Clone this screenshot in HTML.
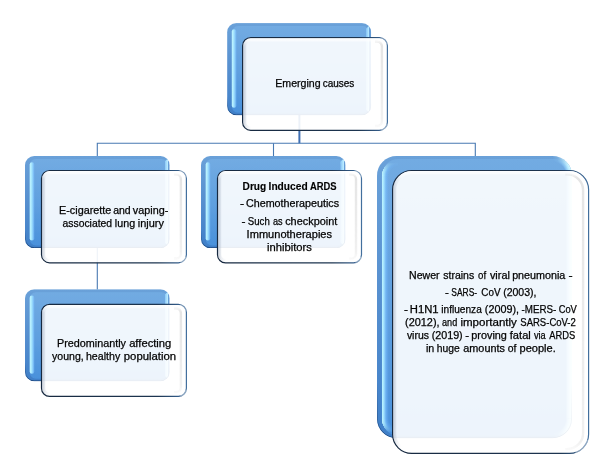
<!DOCTYPE html>
<html lang="en"><head><meta charset="utf-8"><title>Emerging causes</title>
<style>html,body{margin:0;padding:0;background:#fff}body{width:609px;height:471px;overflow:hidden}svg{display:block}text{font-family:"Liberation Sans",sans-serif;font-size:10px;fill:#000;stroke:#000;stroke-width:0.25px}text.b{font-weight:bold;stroke-width:0.15px}</style></head><body>
<svg width="609" height="471" viewBox="0 0 609 471">
<defs>
<filter id="bl" x="-20%" y="-20%" width="140%" height="140%"><feGaussianBlur stdDeviation="0.45"/></filter>
<filter id="bl3" x="-60%" y="-60%" width="220%" height="220%"><feGaussianBlur stdDeviation="0.6"/></filter>
<filter id="bl2" x="-20%" y="-20%" width="140%" height="140%"><feGaussianBlur stdDeviation="0.7"/></filter>
<linearGradient id="gb" x1="0" y1="0" x2="0" y2="1"><stop offset="0" stop-color="#72ABE2"/><stop offset="0.5" stop-color="#60A0DF"/><stop offset="1" stop-color="#4A91DB"/></linearGradient>
<linearGradient id="gsd" x1="0" y1="0" x2="0" y2="1"><stop offset="0" stop-color="#6AA1D9"/><stop offset="0.5" stop-color="#568FCF"/><stop offset="1" stop-color="#3F7FC8"/></linearGradient>
<linearGradient id="be" x1="0" y1="0" x2="0" y2="1"><stop offset="0" stop-color="#1F4A80" stop-opacity="0"/><stop offset="0.8" stop-color="#1F4A80" stop-opacity="0"/><stop offset="1" stop-color="#1B3F70" stop-opacity="0.9"/></linearGradient>
<linearGradient id="hl" x1="0" y1="0" x2="1" y2="0"><stop offset="0" stop-color="#B4EAFF" stop-opacity="1"/><stop offset="0.45" stop-color="#A0DCFF" stop-opacity="0.8"/><stop offset="1" stop-color="#8CCBFA" stop-opacity="0"/></linearGradient>
<linearGradient id="hr" x1="0" y1="0" x2="1" y2="0"><stop offset="0" stop-color="#8CC8F8" stop-opacity="0"/><stop offset="0.3" stop-color="#90CBF8" stop-opacity="0.8"/><stop offset="0.7" stop-color="#AEE2FF" stop-opacity="1"/><stop offset="1" stop-color="#C8F3FF" stop-opacity="1"/></linearGradient>
<linearGradient id="s_top" gradientUnits="userSpaceOnUse" x1="242.0" y1="0" x2="388.0" y2="0"><stop offset="0" stop-color="#172940"/><stop offset="0.7945" stop-color="#1D3550"/><stop offset="0.9589" stop-color="#35608F"/><stop offset="1" stop-color="#44719F"/></linearGradient>
<linearGradient id="ir_top" gradientUnits="userSpaceOnUse" x1="0" y1="40.0" x2="0" y2="126.9"><stop offset="0" stop-color="#D8D8D8" stop-opacity="0.1"/><stop offset="0.0575" stop-color="#DADADA" stop-opacity="0.7"/><stop offset="0.55" stop-color="#DEDEDE" stop-opacity="0.6"/><stop offset="0.9079" stop-color="#E2E2E2" stop-opacity="0.5"/><stop offset="1" stop-color="#EEEEEE" stop-opacity="0.3"/></linearGradient>
<linearGradient id="ib_top" gradientUnits="userSpaceOnUse" x1="0" y1="116.9" x2="0" y2="125.9"><stop offset="0" stop-color="#DDDDDD" stop-opacity="0"/><stop offset="1" stop-color="#D8D8D8" stop-opacity="0.75"/></linearGradient>
<linearGradient id="il_top" gradientUnits="userSpaceOnUse" x1="242.0" y1="0" x2="251.0" y2="0"><stop offset="0" stop-color="#8E9BB0" stop-opacity="0.6"/><stop offset="0.5" stop-color="#A9B4C6" stop-opacity="0.2"/><stop offset="1" stop-color="#A9B4C6" stop-opacity="0"/></linearGradient>
<linearGradient id="it_top" gradientUnits="userSpaceOnUse" x1="0" y1="37.0" x2="0" y2="46.0"><stop offset="0" stop-color="#fff" stop-opacity="0.9"/><stop offset="0.45" stop-color="#fff" stop-opacity="0.55"/><stop offset="1" stop-color="#fff" stop-opacity="0"/></linearGradient>
<clipPath id="c_top"><rect x="227.1" y="23.1" width="144.10" height="92.20" rx="9.22"/></clipPath>
<clipPath id="f_top"><rect x="243.20" y="38.20" width="143.60" height="91.50" rx="7.50"/></clipPath>
<linearGradient id="s_b1" gradientUnits="userSpaceOnUse" x1="40.9" y1="0" x2="187.0" y2="0"><stop offset="0" stop-color="#172940"/><stop offset="0.7947" stop-color="#1D3550"/><stop offset="0.9589" stop-color="#35608F"/><stop offset="1" stop-color="#44719F"/></linearGradient>
<linearGradient id="ir_b1" gradientUnits="userSpaceOnUse" x1="0" y1="172.9" x2="0" y2="259.4"><stop offset="0" stop-color="#D8D8D8" stop-opacity="0.1"/><stop offset="0.0578" stop-color="#DADADA" stop-opacity="0.7"/><stop offset="0.55" stop-color="#DEDEDE" stop-opacity="0.6"/><stop offset="0.9075" stop-color="#E2E2E2" stop-opacity="0.5"/><stop offset="1" stop-color="#EEEEEE" stop-opacity="0.3"/></linearGradient>
<linearGradient id="ib_b1" gradientUnits="userSpaceOnUse" x1="0" y1="249.39999999999998" x2="0" y2="258.4"><stop offset="0" stop-color="#DDDDDD" stop-opacity="0"/><stop offset="1" stop-color="#D8D8D8" stop-opacity="0.75"/></linearGradient>
<linearGradient id="il_b1" gradientUnits="userSpaceOnUse" x1="40.9" y1="0" x2="49.9" y2="0"><stop offset="0" stop-color="#8E9BB0" stop-opacity="0.6"/><stop offset="0.5" stop-color="#A9B4C6" stop-opacity="0.2"/><stop offset="1" stop-color="#A9B4C6" stop-opacity="0"/></linearGradient>
<linearGradient id="it_b1" gradientUnits="userSpaceOnUse" x1="0" y1="169.9" x2="0" y2="178.9"><stop offset="0" stop-color="#fff" stop-opacity="0.9"/><stop offset="0.45" stop-color="#fff" stop-opacity="0.55"/><stop offset="1" stop-color="#fff" stop-opacity="0"/></linearGradient>
<clipPath id="c_b1"><rect x="25.0" y="156.0" width="144.70" height="92.10" rx="9.21"/></clipPath>
<clipPath id="f_b1"><rect x="42.10" y="171.10" width="143.70" height="91.10" rx="7.50"/></clipPath>
<linearGradient id="s_b2" gradientUnits="userSpaceOnUse" x1="216.9" y1="0" x2="362.1" y2="0"><stop offset="0" stop-color="#172940"/><stop offset="0.7934" stop-color="#1D3550"/><stop offset="0.9587" stop-color="#35608F"/><stop offset="1" stop-color="#44719F"/></linearGradient>
<linearGradient id="ir_b2" gradientUnits="userSpaceOnUse" x1="0" y1="172.9" x2="0" y2="259.5"><stop offset="0" stop-color="#D8D8D8" stop-opacity="0.1"/><stop offset="0.0577" stop-color="#DADADA" stop-opacity="0.7"/><stop offset="0.55" stop-color="#DEDEDE" stop-opacity="0.6"/><stop offset="0.9076" stop-color="#E2E2E2" stop-opacity="0.5"/><stop offset="1" stop-color="#EEEEEE" stop-opacity="0.3"/></linearGradient>
<linearGradient id="ib_b2" gradientUnits="userSpaceOnUse" x1="0" y1="249.5" x2="0" y2="258.5"><stop offset="0" stop-color="#DDDDDD" stop-opacity="0"/><stop offset="1" stop-color="#D8D8D8" stop-opacity="0.75"/></linearGradient>
<linearGradient id="il_b2" gradientUnits="userSpaceOnUse" x1="216.9" y1="0" x2="225.9" y2="0"><stop offset="0" stop-color="#8E9BB0" stop-opacity="0.6"/><stop offset="0.5" stop-color="#A9B4C6" stop-opacity="0.2"/><stop offset="1" stop-color="#A9B4C6" stop-opacity="0"/></linearGradient>
<linearGradient id="it_b2" gradientUnits="userSpaceOnUse" x1="0" y1="169.9" x2="0" y2="178.9"><stop offset="0" stop-color="#fff" stop-opacity="0.9"/><stop offset="0.45" stop-color="#fff" stop-opacity="0.55"/><stop offset="1" stop-color="#fff" stop-opacity="0"/></linearGradient>
<clipPath id="c_b2"><rect x="201.0" y="156.0" width="144.60" height="92.10" rx="9.21"/></clipPath>
<clipPath id="f_b2"><rect x="218.10" y="171.10" width="142.80" height="91.20" rx="7.50"/></clipPath>
<linearGradient id="s_b3" gradientUnits="userSpaceOnUse" x1="392.0" y1="0" x2="589.2" y2="0"><stop offset="0" stop-color="#172940"/><stop offset="0.8479" stop-color="#1D3550"/><stop offset="0.9696" stop-color="#35608F"/><stop offset="1" stop-color="#44719F"/></linearGradient>
<linearGradient id="ir_b3" gradientUnits="userSpaceOnUse" x1="0" y1="172.9" x2="0" y2="450.0"><stop offset="0" stop-color="#D8D8D8" stop-opacity="0.1"/><stop offset="0.0180" stop-color="#DADADA" stop-opacity="0.7"/><stop offset="0.55" stop-color="#DEDEDE" stop-opacity="0.6"/><stop offset="0.9711" stop-color="#E2E2E2" stop-opacity="0.5"/><stop offset="1" stop-color="#EEEEEE" stop-opacity="0.3"/></linearGradient>
<linearGradient id="ib_b3" gradientUnits="userSpaceOnUse" x1="0" y1="440.0" x2="0" y2="449.0"><stop offset="0" stop-color="#DDDDDD" stop-opacity="0"/><stop offset="1" stop-color="#D8D8D8" stop-opacity="0.75"/></linearGradient>
<linearGradient id="il_b3" gradientUnits="userSpaceOnUse" x1="392.0" y1="0" x2="401.0" y2="0"><stop offset="0" stop-color="#8E9BB0" stop-opacity="0.6"/><stop offset="0.5" stop-color="#A9B4C6" stop-opacity="0.2"/><stop offset="1" stop-color="#A9B4C6" stop-opacity="0"/></linearGradient>
<linearGradient id="it_b3" gradientUnits="userSpaceOnUse" x1="0" y1="169.9" x2="0" y2="178.9"><stop offset="0" stop-color="#fff" stop-opacity="0.9"/><stop offset="0.45" stop-color="#fff" stop-opacity="0.55"/><stop offset="1" stop-color="#fff" stop-opacity="0"/></linearGradient>
<clipPath id="c_b3"><rect x="377.0" y="156.0" width="195.00" height="282.30" rx="19.50"/></clipPath>
<clipPath id="f_b3"><rect x="393.20" y="171.10" width="194.80" height="281.70" rx="18.52"/></clipPath>
<linearGradient id="s_b4" gradientUnits="userSpaceOnUse" x1="40.9" y1="0" x2="187.0" y2="0"><stop offset="0" stop-color="#172940"/><stop offset="0.7947" stop-color="#1D3550"/><stop offset="0.9589" stop-color="#35608F"/><stop offset="1" stop-color="#44719F"/></linearGradient>
<linearGradient id="ir_b4" gradientUnits="userSpaceOnUse" x1="0" y1="306.8" x2="0" y2="393.0"><stop offset="0" stop-color="#D8D8D8" stop-opacity="0.1"/><stop offset="0.0580" stop-color="#DADADA" stop-opacity="0.7"/><stop offset="0.55" stop-color="#DEDEDE" stop-opacity="0.6"/><stop offset="0.9072" stop-color="#E2E2E2" stop-opacity="0.5"/><stop offset="1" stop-color="#EEEEEE" stop-opacity="0.3"/></linearGradient>
<linearGradient id="ib_b4" gradientUnits="userSpaceOnUse" x1="0" y1="383.0" x2="0" y2="392.0"><stop offset="0" stop-color="#DDDDDD" stop-opacity="0"/><stop offset="1" stop-color="#D8D8D8" stop-opacity="0.75"/></linearGradient>
<linearGradient id="il_b4" gradientUnits="userSpaceOnUse" x1="40.9" y1="0" x2="49.9" y2="0"><stop offset="0" stop-color="#8E9BB0" stop-opacity="0.6"/><stop offset="0.5" stop-color="#A9B4C6" stop-opacity="0.2"/><stop offset="1" stop-color="#A9B4C6" stop-opacity="0"/></linearGradient>
<linearGradient id="it_b4" gradientUnits="userSpaceOnUse" x1="0" y1="303.8" x2="0" y2="312.8"><stop offset="0" stop-color="#fff" stop-opacity="0.9"/><stop offset="0.45" stop-color="#fff" stop-opacity="0.55"/><stop offset="1" stop-color="#fff" stop-opacity="0"/></linearGradient>
<clipPath id="c_b4"><rect x="25.0" y="289.2" width="144.70" height="92.10" rx="9.21"/></clipPath>
<clipPath id="f_b4"><rect x="42.10" y="305.00" width="143.70" height="90.80" rx="7.50"/></clipPath>
</defs>
<rect width="609" height="471" fill="#fff"/>
<g fill="none" stroke="#4879B2" stroke-width="1.1">
<path d="M299.4 114 V143.3" stroke-width="2" stroke="#3F6FB3"/>
<path d="M97.3 156.5 V143.3 H475.3 V156.5"/>
<path d="M273.5 143.3 V156.5"/>
<path d="M97.3 247 V289.5"/>
</g>
<g clip-path="url(#c_top)">
<rect x="227.1" y="23.1" width="144.10" height="92.20" fill="url(#gsd)"/>
<rect x="231.90" y="26.10" width="137.30" height="86.60" rx="6.22" fill="url(#gb)" filter="url(#bl)"/>
<linearGradient id="hr_top" gradientUnits="userSpaceOnUse" x1="365.00" y1="0" x2="371.20" y2="0"><stop offset="0" stop-color="#8CC8F8" stop-opacity="0"/><stop offset="0.25" stop-color="#94CFFA" stop-opacity="0.85"/><stop offset="0.6" stop-color="#B4E8FF" stop-opacity="1"/><stop offset="1" stop-color="#D4FAFF" stop-opacity="1"/></linearGradient>
<path d="M366.90 27.89 A6.62 6.62 0 0 1 368.60 32.32 V106.08 A6.62 6.62 0 0 1 366.90 110.51" fill="none" stroke="url(#hr_top)" stroke-width="5.4" filter="url(#bl)"/>
<rect x="227.50" y="23.50" width="143.30" height="91.40" rx="8.82" fill="none" stroke="url(#be)" stroke-width="0.9"/>
<linearGradient id="hl_top" gradientUnits="userSpaceOnUse" x1="231.80" y1="0" x2="239.10" y2="0"><stop offset="0" stop-color="#C4F8FF"/><stop offset="0.3" stop-color="#A6E6FF" stop-opacity="0.95"/><stop offset="0.6" stop-color="#7CC0FF" stop-opacity="0.6"/><stop offset="1" stop-color="#70B4F8" stop-opacity="0"/></linearGradient>
<rect x="231.80" y="29.30" width="4.6" height="78.40" rx="2.3" fill="url(#hl_top)" filter="url(#bl)"/>
</g>
<g clip-path="url(#c_b1)">
<rect x="25.0" y="156.0" width="144.70" height="92.10" fill="url(#gsd)"/>
<rect x="29.80" y="159.00" width="137.90" height="86.50" rx="6.21" fill="url(#gb)" filter="url(#bl)"/>
<linearGradient id="hr_b1" gradientUnits="userSpaceOnUse" x1="163.50" y1="0" x2="169.70" y2="0"><stop offset="0" stop-color="#8CC8F8" stop-opacity="0"/><stop offset="0.25" stop-color="#94CFFA" stop-opacity="0.85"/><stop offset="0.6" stop-color="#B4E8FF" stop-opacity="1"/><stop offset="1" stop-color="#D4FAFF" stop-opacity="1"/></linearGradient>
<path d="M165.40 160.79 A6.61 6.61 0 0 1 167.10 165.21 V238.89 A6.61 6.61 0 0 1 165.40 243.31" fill="none" stroke="url(#hr_b1)" stroke-width="5.4" filter="url(#bl)"/>
<rect x="25.40" y="156.40" width="143.90" height="91.30" rx="8.81" fill="none" stroke="url(#be)" stroke-width="0.9"/>
<linearGradient id="hl_b1" gradientUnits="userSpaceOnUse" x1="29.70" y1="0" x2="37.00" y2="0"><stop offset="0" stop-color="#C4F8FF"/><stop offset="0.3" stop-color="#A6E6FF" stop-opacity="0.95"/><stop offset="0.6" stop-color="#7CC0FF" stop-opacity="0.6"/><stop offset="1" stop-color="#70B4F8" stop-opacity="0"/></linearGradient>
<rect x="29.70" y="162.20" width="4.6" height="78.30" rx="2.3" fill="url(#hl_b1)" filter="url(#bl)"/>
</g>
<g clip-path="url(#c_b2)">
<rect x="201.0" y="156.0" width="144.60" height="92.10" fill="url(#gsd)"/>
<rect x="205.80" y="159.00" width="137.80" height="86.50" rx="6.21" fill="url(#gb)" filter="url(#bl)"/>
<linearGradient id="hr_b2" gradientUnits="userSpaceOnUse" x1="339.40" y1="0" x2="345.60" y2="0"><stop offset="0" stop-color="#8CC8F8" stop-opacity="0"/><stop offset="0.25" stop-color="#94CFFA" stop-opacity="0.85"/><stop offset="0.6" stop-color="#B4E8FF" stop-opacity="1"/><stop offset="1" stop-color="#D4FAFF" stop-opacity="1"/></linearGradient>
<path d="M341.30 160.79 A6.61 6.61 0 0 1 343.00 165.21 V238.89 A6.61 6.61 0 0 1 341.30 243.31" fill="none" stroke="url(#hr_b2)" stroke-width="5.4" filter="url(#bl)"/>
<rect x="201.40" y="156.40" width="143.80" height="91.30" rx="8.81" fill="none" stroke="url(#be)" stroke-width="0.9"/>
<linearGradient id="hl_b2" gradientUnits="userSpaceOnUse" x1="205.70" y1="0" x2="213.00" y2="0"><stop offset="0" stop-color="#C4F8FF"/><stop offset="0.3" stop-color="#A6E6FF" stop-opacity="0.95"/><stop offset="0.6" stop-color="#7CC0FF" stop-opacity="0.6"/><stop offset="1" stop-color="#70B4F8" stop-opacity="0"/></linearGradient>
<rect x="205.70" y="162.20" width="4.6" height="78.30" rx="2.3" fill="url(#hl_b2)" filter="url(#bl)"/>
</g>
<g clip-path="url(#c_b3)">
<rect x="377.0" y="156.0" width="195.00" height="282.30" fill="url(#gsd)"/>
<rect x="381.80" y="159.00" width="188.20" height="276.70" rx="16.50" fill="url(#gb)" filter="url(#bl)"/>
<linearGradient id="hr_b3" gradientUnits="userSpaceOnUse" x1="565.80" y1="0" x2="572.00" y2="0"><stop offset="0" stop-color="#8CC8F8" stop-opacity="0"/><stop offset="0.25" stop-color="#94CFFA" stop-opacity="0.85"/><stop offset="0.6" stop-color="#B4E8FF" stop-opacity="1"/><stop offset="1" stop-color="#D4FAFF" stop-opacity="1"/></linearGradient>
<rect x="565.80" y="175.50" width="6.2" height="243.30" fill="url(#hr_b3)"/>
<radialGradient id="rt_b3" gradientUnits="userSpaceOnUse" cx="552.50" cy="175.50" r="19.50"><stop offset="0" stop-color="#8CC8F8" stop-opacity="0"/><stop offset="0.6821" stop-color="#8CC8F8" stop-opacity="0"/><stop offset="0.7641" stop-color="#94CFFA" stop-opacity="0.85"/><stop offset="0.8718" stop-color="#B4E8FF" stop-opacity="1"/><stop offset="1" stop-color="#D4FAFF" stop-opacity="1"/></radialGradient>
<radialGradient id="rbm_b3" gradientUnits="userSpaceOnUse" cx="552.50" cy="418.80" r="19.50"><stop offset="0" stop-color="#8CC8F8" stop-opacity="0"/><stop offset="0.6821" stop-color="#8CC8F8" stop-opacity="0"/><stop offset="0.7641" stop-color="#94CFFA" stop-opacity="0.85"/><stop offset="0.8718" stop-color="#B4E8FF" stop-opacity="1"/><stop offset="1" stop-color="#D4FAFF" stop-opacity="1"/></radialGradient>
<linearGradient id="mk_b3" gradientUnits="userSpaceOnUse" x1="552.50" y1="0" x2="572.00" y2="0"><stop offset="0" stop-color="#fff" stop-opacity="0"/><stop offset="0.25" stop-color="#fff" stop-opacity="0.15"/><stop offset="0.8" stop-color="#fff" stop-opacity="1"/></linearGradient>
<mask id="mm_b3" maskUnits="userSpaceOnUse" x="552.50" y="156.00" width="19.50" height="282.30"><rect x="552.50" y="156.00" width="19.50" height="282.30" fill="url(#mk_b3)"/></mask>
<g mask="url(#mm_b3)"><rect x="552.50" y="156.00" width="19.50" height="19.50" fill="url(#rt_b3)"/><rect x="552.50" y="418.80" width="19.50" height="19.50" fill="url(#rbm_b3)"/></g>
<rect x="377.40" y="156.40" width="194.20" height="281.50" rx="19.10" fill="none" stroke="url(#be)" stroke-width="0.9"/>
<linearGradient id="hl_b3" gradientUnits="userSpaceOnUse" x1="381.70" y1="0" x2="389.00" y2="0"><stop offset="0" stop-color="#C4F8FF"/><stop offset="0.3" stop-color="#A6E6FF" stop-opacity="0.95"/><stop offset="0.6" stop-color="#7CC0FF" stop-opacity="0.6"/><stop offset="1" stop-color="#70B4F8" stop-opacity="0"/></linearGradient>
<radialGradient id="lt_b3" gradientUnits="userSpaceOnUse" cx="398.30" cy="176" r="16.50"><stop offset="0" stop-color="#70B4F8" stop-opacity="0"/><stop offset="0.5576" stop-color="#70B4F8" stop-opacity="0"/><stop offset="0.7333" stop-color="#7CC0FF" stop-opacity="0.6"/><stop offset="0.8667" stop-color="#A6E6FF" stop-opacity="0.95"/><stop offset="0.9939" stop-color="#C4F8FF" stop-opacity="1"/><stop offset="1" stop-color="#C4F8FF" stop-opacity="0"/></radialGradient>
<radialGradient id="lb_b3" gradientUnits="userSpaceOnUse" cx="398.30" cy="419" r="16.50"><stop offset="0" stop-color="#70B4F8" stop-opacity="0"/><stop offset="0.5576" stop-color="#70B4F8" stop-opacity="0"/><stop offset="0.7333" stop-color="#7CC0FF" stop-opacity="0.6"/><stop offset="0.8667" stop-color="#A6E6FF" stop-opacity="0.95"/><stop offset="0.9939" stop-color="#C4F8FF" stop-opacity="1"/><stop offset="1" stop-color="#C4F8FF" stop-opacity="0"/></radialGradient>
<linearGradient id="mlv_b3" gradientUnits="userSpaceOnUse" x1="0" y1="159.00" x2="0" y2="435.70"><stop offset="0" stop-color="#fff" stop-opacity="0"/><stop offset="0.0119" stop-color="#fff" stop-opacity="0"/><stop offset="0.0417" stop-color="#fff" stop-opacity="0.85"/><stop offset="0.0596" stop-color="#fff" stop-opacity="1"/><stop offset="0.9404" stop-color="#fff" stop-opacity="1"/><stop offset="0.9583" stop-color="#fff" stop-opacity="0.85"/><stop offset="0.9881" stop-color="#fff" stop-opacity="0"/><stop offset="1" stop-color="#fff" stop-opacity="0"/></linearGradient>
<mask id="mv_b3" maskUnits="userSpaceOnUse" x="380.80" y="158.00" width="18.50" height="278.70"><rect x="380.80" y="158.00" width="18.50" height="278.70" fill="url(#mlv_b3)"/></mask>
<g mask="url(#mv_b3)" shape-rendering="crispEdges">
<rect x="381.80" y="159.00" width="16.50" height="17.00" fill="url(#lt_b3)"/>
<rect x="381.80" y="176" width="16.50" height="243" fill="url(#hl_b3)"/>
<rect x="381.80" y="419" width="16.50" height="16.70" fill="url(#lb_b3)"/>
</g>
</g>
<g clip-path="url(#c_b4)">
<rect x="25.0" y="289.2" width="144.70" height="92.10" fill="url(#gsd)"/>
<rect x="29.80" y="292.20" width="137.90" height="86.50" rx="6.21" fill="url(#gb)" filter="url(#bl)"/>
<linearGradient id="hr_b4" gradientUnits="userSpaceOnUse" x1="163.50" y1="0" x2="169.70" y2="0"><stop offset="0" stop-color="#8CC8F8" stop-opacity="0"/><stop offset="0.25" stop-color="#94CFFA" stop-opacity="0.85"/><stop offset="0.6" stop-color="#B4E8FF" stop-opacity="1"/><stop offset="1" stop-color="#D4FAFF" stop-opacity="1"/></linearGradient>
<path d="M165.40 293.99 A6.61 6.61 0 0 1 167.10 298.41 V372.09 A6.61 6.61 0 0 1 165.40 376.51" fill="none" stroke="url(#hr_b4)" stroke-width="5.4" filter="url(#bl)"/>
<rect x="25.40" y="289.60" width="143.90" height="91.30" rx="8.81" fill="none" stroke="url(#be)" stroke-width="0.9"/>
<linearGradient id="hl_b4" gradientUnits="userSpaceOnUse" x1="29.70" y1="0" x2="37.00" y2="0"><stop offset="0" stop-color="#C4F8FF"/><stop offset="0.3" stop-color="#A6E6FF" stop-opacity="0.95"/><stop offset="0.6" stop-color="#7CC0FF" stop-opacity="0.6"/><stop offset="1" stop-color="#70B4F8" stop-opacity="0"/></linearGradient>
<rect x="29.70" y="295.40" width="4.6" height="78.30" rx="2.3" fill="url(#hl_b4)" filter="url(#bl)"/>
</g>
<rect x="242.60" y="37.60" width="144.80" height="92.70" rx="8.10" fill="#fff" fill-opacity="0.9" stroke="url(#s_top)" stroke-width="1.2"/>
<path d="M386.91 124.97 A8.10 8.10 0 0 1 382.07 129.81" fill="none" stroke="#fff" stroke-opacity="0.4" stroke-width="1.5" stroke-linecap="round" filter="url(#bl3)"/>
<path d="M382.07 38.09 A8.10 8.10 0 0 1 386.91 42.93" fill="none" stroke="#fff" stroke-opacity="0.3" stroke-width="1.5" stroke-linecap="round" filter="url(#bl3)"/>
<g clip-path="url(#f_top)" fill="none">
<rect x="244.70" y="39.70" width="140.60" height="88.50" rx="6.00" stroke="url(#il_top)" stroke-width="3.4"/>
<rect x="244.70" y="39.70" width="140.60" height="88.50" rx="6.00" stroke="url(#it_top)" stroke-width="3.4"/>
<path d="M375.10 41.50 h2 a4.80 4.80 0 0 1 4.80 4.80 V121.20 a4.80 4.80 0 0 1 -4.80 4.80 h-2" stroke="url(#ir_top)" stroke-width="2.4" filter="url(#bl2)"/>
<path d="M252.90 126.00 H377.10" stroke="#ECECEC" stroke-opacity="0.8" stroke-width="2.2" filter="url(#bl2)"/>
</g>
<rect x="41.50" y="170.50" width="144.90" height="92.30" rx="8.10" fill="#fff" fill-opacity="0.9" stroke="url(#s_b1)" stroke-width="1.2"/>
<path d="M185.91 257.47 A8.10 8.10 0 0 1 181.07 262.31" fill="none" stroke="#fff" stroke-opacity="0.4" stroke-width="1.5" stroke-linecap="round" filter="url(#bl3)"/>
<path d="M181.07 170.99 A8.10 8.10 0 0 1 185.91 175.83" fill="none" stroke="#fff" stroke-opacity="0.3" stroke-width="1.5" stroke-linecap="round" filter="url(#bl3)"/>
<g clip-path="url(#f_b1)" fill="none">
<rect x="43.60" y="172.60" width="140.70" height="88.10" rx="6.00" stroke="url(#il_b1)" stroke-width="3.4"/>
<rect x="43.60" y="172.60" width="140.70" height="88.10" rx="6.00" stroke="url(#it_b1)" stroke-width="3.4"/>
<path d="M174.10 174.40 h2 a4.80 4.80 0 0 1 4.80 4.80 V253.70 a4.80 4.80 0 0 1 -4.80 4.80 h-2" stroke="url(#ir_b1)" stroke-width="2.4" filter="url(#bl2)"/>
<path d="M51.80 258.50 H176.10" stroke="#ECECEC" stroke-opacity="0.8" stroke-width="2.2" filter="url(#bl2)"/>
</g>
<rect x="217.50" y="170.50" width="144.00" height="92.40" rx="8.10" fill="#fff" fill-opacity="0.9" stroke="url(#s_b2)" stroke-width="1.2"/>
<path d="M361.01 257.57 A8.10 8.10 0 0 1 356.17 262.41" fill="none" stroke="#fff" stroke-opacity="0.4" stroke-width="1.5" stroke-linecap="round" filter="url(#bl3)"/>
<path d="M356.17 170.99 A8.10 8.10 0 0 1 361.01 175.83" fill="none" stroke="#fff" stroke-opacity="0.3" stroke-width="1.5" stroke-linecap="round" filter="url(#bl3)"/>
<g clip-path="url(#f_b2)" fill="none">
<rect x="219.60" y="172.60" width="139.80" height="88.20" rx="6.00" stroke="url(#il_b2)" stroke-width="3.4"/>
<rect x="219.60" y="172.60" width="139.80" height="88.20" rx="6.00" stroke="url(#it_b2)" stroke-width="3.4"/>
<path d="M349.20 174.40 h2 a4.80 4.80 0 0 1 4.80 4.80 V253.80 a4.80 4.80 0 0 1 -4.80 4.80 h-2" stroke="url(#ir_b2)" stroke-width="2.4" filter="url(#bl2)"/>
<path d="M227.80 258.60 H351.20" stroke="#ECECEC" stroke-opacity="0.8" stroke-width="2.2" filter="url(#bl2)"/>
</g>
<rect x="392.60" y="170.50" width="196.00" height="282.90" rx="19.12" fill="#fff" fill-opacity="0.9" stroke="url(#s_b3)" stroke-width="1.2"/>
<path d="M587.45 440.82 A19.12 19.12 0 0 1 576.02 452.25" fill="none" stroke="#fff" stroke-opacity="0.4" stroke-width="1.5" stroke-linecap="round" filter="url(#bl3)"/>
<g clip-path="url(#f_b3)" fill="none">
<rect x="394.70" y="172.60" width="191.80" height="278.70" rx="17.02" stroke="url(#il_b3)" stroke-width="3.4"/>
<rect x="394.70" y="172.60" width="191.80" height="278.70" rx="17.02" stroke="url(#it_b3)" stroke-width="3.4"/>
<path d="M565.28 174.40 h2 a15.82 15.82 0 0 1 15.82 15.82 V433.28 a15.82 15.82 0 0 1 -15.82 15.82 h-2" stroke="url(#ir_b3)" stroke-width="2.4" filter="url(#bl2)"/>
<path d="M413.92 449.10 H567.28" stroke="#ECECEC" stroke-opacity="0.8" stroke-width="2.2" filter="url(#bl2)"/>
</g>
<rect x="41.50" y="304.40" width="144.90" height="92.00" rx="8.10" fill="#fff" fill-opacity="0.9" stroke="url(#s_b4)" stroke-width="1.2"/>
<path d="M185.91 391.07 A8.10 8.10 0 0 1 181.07 395.91" fill="none" stroke="#fff" stroke-opacity="0.4" stroke-width="1.5" stroke-linecap="round" filter="url(#bl3)"/>
<path d="M181.07 304.89 A8.10 8.10 0 0 1 185.91 309.73" fill="none" stroke="#fff" stroke-opacity="0.3" stroke-width="1.5" stroke-linecap="round" filter="url(#bl3)"/>
<g clip-path="url(#f_b4)" fill="none">
<rect x="43.60" y="306.50" width="140.70" height="87.80" rx="6.00" stroke="url(#il_b4)" stroke-width="3.4"/>
<rect x="43.60" y="306.50" width="140.70" height="87.80" rx="6.00" stroke="url(#it_b4)" stroke-width="3.4"/>
<path d="M174.10 308.30 h2 a4.80 4.80 0 0 1 4.80 4.80 V387.30 a4.80 4.80 0 0 1 -4.80 4.80 h-2" stroke="url(#ir_b4)" stroke-width="2.4" filter="url(#bl2)"/>
<path d="M51.80 392.10 H176.10" stroke="#ECECEC" stroke-opacity="0.8" stroke-width="2.2" filter="url(#bl2)"/>
</g>
<g opacity="0.99">
<text y="86.9"><tspan x="275.25" textLength="45.34" lengthAdjust="spacingAndGlyphs">Emerging</tspan> <tspan x="322.70" textLength="31.60" lengthAdjust="spacingAndGlyphs">causes</tspan></text>
<text y="213.7"><tspan x="59.04" textLength="52.26" lengthAdjust="spacingAndGlyphs">E-cigarette</tspan> <tspan x="113.18" textLength="17.51" lengthAdjust="spacingAndGlyphs">and</tspan> <tspan x="132.80" textLength="35.47" lengthAdjust="spacingAndGlyphs">vaping-</tspan></text>
<text y="226.7"><tspan x="62.49" textLength="49.60" lengthAdjust="spacingAndGlyphs">associated</tspan> <tspan x="114.86" textLength="20.24" lengthAdjust="spacingAndGlyphs">lung</tspan> <tspan x="137.84" textLength="26.16" lengthAdjust="spacingAndGlyphs">injury</tspan></text>
<text y="346.8"><tspan x="56.99" textLength="69.01" lengthAdjust="spacingAndGlyphs">Predominantly</tspan> <tspan x="129.15" textLength="42.18" lengthAdjust="spacingAndGlyphs">affecting</tspan></text>
<text y="359.8"><tspan x="52.10" textLength="31.63" lengthAdjust="spacingAndGlyphs">young,</tspan> <tspan x="85.96" textLength="34.24" lengthAdjust="spacingAndGlyphs">healthy</tspan> <tspan x="123.82" textLength="52.32" lengthAdjust="spacingAndGlyphs">population</tspan></text>
<text y="189.8" class="b"><tspan x="242.64" textLength="23.57" lengthAdjust="spacingAndGlyphs">Drug</tspan> <tspan x="268.59" textLength="39.03" lengthAdjust="spacingAndGlyphs">Induced</tspan> <tspan x="310.01" textLength="26.64" lengthAdjust="spacingAndGlyphs">ARDS</tspan></text>
<text y="207.1"><tspan x="240.00" textLength="4.13" lengthAdjust="spacingAndGlyphs">-</tspan> <tspan x="245.96" textLength="93.16" lengthAdjust="spacingAndGlyphs">Chemotherapeutics</tspan></text>
<text y="224.5"><tspan x="241.62" textLength="4.00" lengthAdjust="spacingAndGlyphs">-</tspan> <tspan x="247.82" textLength="21.92" lengthAdjust="spacingAndGlyphs">Such</tspan> <tspan x="272.93" textLength="9.64" lengthAdjust="spacingAndGlyphs">as</tspan> <tspan x="285.16" textLength="52.11" lengthAdjust="spacingAndGlyphs">checkpoint</tspan></text>
<text y="237.5"><tspan x="246.60" textLength="85.43" lengthAdjust="spacingAndGlyphs">Immunotherapies</tspan></text>
<text y="250.5"><tspan x="267.03" textLength="44.81" lengthAdjust="spacingAndGlyphs">inhibitors</tspan></text>
<text y="278.7"><tspan x="409.00" textLength="30.53" lengthAdjust="spacingAndGlyphs">Newer</tspan> <tspan x="443.29" textLength="30.92" lengthAdjust="spacingAndGlyphs">strains</tspan> <tspan x="478.11" textLength="8.07" lengthAdjust="spacingAndGlyphs">of</tspan> <tspan x="489.90" textLength="19.98" lengthAdjust="spacingAndGlyphs">viral</tspan> <tspan x="512.15" textLength="53.20" lengthAdjust="spacingAndGlyphs">pneumonia</tspan> <tspan x="568.50" textLength="4.13" lengthAdjust="spacingAndGlyphs">-</tspan></text>
<text y="295.9"><tspan x="445.14" textLength="3.86" lengthAdjust="spacingAndGlyphs">-</tspan> <tspan x="451.36" textLength="25.80" lengthAdjust="spacingAndGlyphs">SARS-</tspan> <tspan x="481.31" textLength="19.16" lengthAdjust="spacingAndGlyphs">CoV</tspan> <tspan x="503.17" textLength="33.36" lengthAdjust="spacingAndGlyphs">(2003),</tspan></text>
<text y="313.2"><tspan x="403.92" textLength="4.00" lengthAdjust="spacingAndGlyphs">-</tspan> <tspan x="409.80" textLength="28.82" lengthAdjust="spacingAndGlyphs">H1N1</tspan> <tspan x="441.29" textLength="40.47" lengthAdjust="spacingAndGlyphs">influenza</tspan> <tspan x="484.85" textLength="34.20" lengthAdjust="spacingAndGlyphs">(2009),</tspan> <tspan x="521.51" textLength="34.81" lengthAdjust="spacingAndGlyphs">-MERS-</tspan> <tspan x="558.63" textLength="18.24" lengthAdjust="spacingAndGlyphs">CoV</tspan></text>
<text y="326.2"><tspan x="405.05" textLength="34.51" lengthAdjust="spacingAndGlyphs">(2012),</tspan> <tspan x="442.04" textLength="15.17" lengthAdjust="spacingAndGlyphs">and</tspan> <tspan x="460.41" textLength="56.49" lengthAdjust="spacingAndGlyphs">importantly</tspan> <tspan x="520.32" textLength="55.52" lengthAdjust="spacingAndGlyphs">SARS-CoV-2</tspan></text>
<text y="339.2"><tspan x="406.90" textLength="22.11" lengthAdjust="spacingAndGlyphs">virus</tspan> <tspan x="431.66" textLength="31.01" lengthAdjust="spacingAndGlyphs">(2019)</tspan> <tspan x="465.24" textLength="3.86" lengthAdjust="spacingAndGlyphs">-</tspan> <tspan x="471.25" textLength="35.66" lengthAdjust="spacingAndGlyphs">proving</tspan> <tspan x="509.79" textLength="21.00" lengthAdjust="spacingAndGlyphs">fatal</tspan> <tspan x="533.90" textLength="11.76" lengthAdjust="spacingAndGlyphs">via</tspan> <tspan x="549.30" textLength="25.95" lengthAdjust="spacingAndGlyphs">ARDS</tspan></text>
<text y="352.4"><tspan x="425.96" textLength="8.35" lengthAdjust="spacingAndGlyphs">in</tspan> <tspan x="436.78" textLength="22.99" lengthAdjust="spacingAndGlyphs">huge</tspan> <tspan x="463.27" textLength="41.66" lengthAdjust="spacingAndGlyphs">amounts</tspan> <tspan x="507.78" textLength="8.69" lengthAdjust="spacingAndGlyphs">of</tspan> <tspan x="519.54" textLength="36.23" lengthAdjust="spacingAndGlyphs">people.</tspan></text>
</g>
</svg></body></html>
